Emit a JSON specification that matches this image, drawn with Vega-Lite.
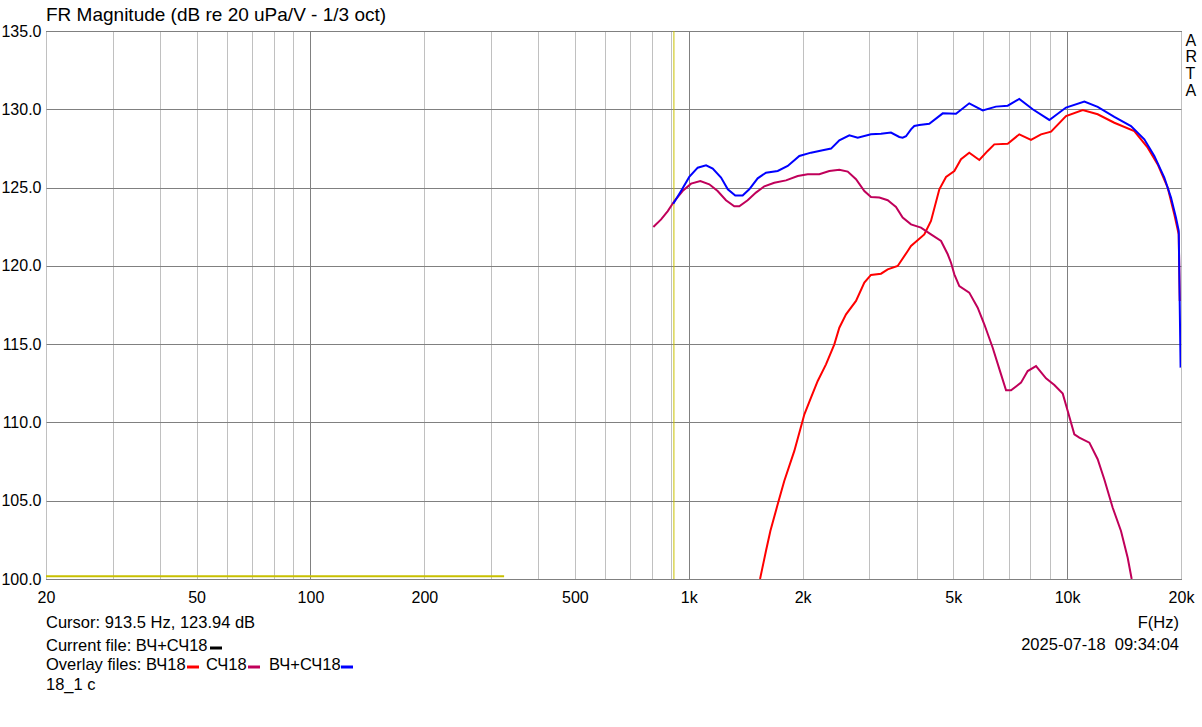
{
  "$schema": "https://vega.github.io/schema/vega-lite/v6.json",
  "background": "white",
  "padding": {"left": 0, "top": 5, "right": 0, "bottom": 0},
  "config": {
    "font": "Liberation Sans",
    "view": {"stroke": "#000", "strokeWidth": 1},
    "axis": {"labelFont": "Liberation Sans", "labelFontSize": 16, "labelColor": "#000", "ticks": false, "domain": false, "labelFlush": false},
    "concat": {"spacing": 0}
  },
  "datasets": {
    "curves": [
      {"s":"ВЧ18","f":1543,"db":100.0},{"s":"ВЧ18","f":1600,"db":101.8},{"s":"ВЧ18","f":1643,"db":103.07},{"s":"ВЧ18","f":1718,"db":104.77},{"s":"ВЧ18","f":1788,"db":106.26},{"s":"ВЧ18","f":1901,"db":108.18},{"s":"ВЧ18","f":2021,"db":110.52},{"s":"ВЧ18","f":2104,"db":111.58},{"s":"ВЧ18","f":2192,"db":112.65},{"s":"ВЧ18","f":2305,"db":113.71},{"s":"ВЧ18","f":2425,"db":114.99},{"s":"ВЧ18","f":2500,"db":116.05},{"s":"ВЧ18","f":2604,"db":116.9},{"s":"ВЧ18","f":2767,"db":117.76},{"s":"ВЧ18","f":2911,"db":118.93},{"s":"ВЧ18","f":3031,"db":119.42},{"s":"ВЧ18","f":3222,"db":119.5},{"s":"ВЧ18","f":3356,"db":119.78},{"s":"ВЧ18","f":3566,"db":119.99},{"s":"ВЧ18","f":3791,"db":120.95},{"s":"ВЧ18","f":3867,"db":121.27},{"s":"ВЧ18","f":4193,"db":122.01},{"s":"ВЧ18","f":4367,"db":122.87},{"s":"ВЧ18","f":4595,"db":124.89},{"s":"ВЧ18","f":4786,"db":125.68},{"s":"ВЧ18","f":5034,"db":126.06},{"s":"ВЧ18","f":5243,"db":126.81},{"s":"ВЧ18","f":5512,"db":127.23},{"s":"ВЧ18","f":5861,"db":126.76},{"s":"ВЧ18","f":6167,"db":127.34},{"s":"ВЧ18","f":6420,"db":127.76},{"s":"ВЧ18","f":6967,"db":127.8},{"s":"ВЧ18","f":7475,"db":128.4},{"s":"ВЧ18","f":8027,"db":128.04},{"s":"ВЧ18","f":8531,"db":128.4},{"s":"ВЧ18","f":9068,"db":128.57},{"s":"ВЧ18","f":9934,"db":129.57},{"s":"ВЧ18","f":10999,"db":129.95},{"s":"ВЧ18","f":12045,"db":129.68},{"s":"ВЧ18","f":13328,"db":129.14},{"s":"ВЧ18","f":15052,"db":128.61},{"s":"ВЧ18","f":16331,"db":127.55},{"s":"ВЧ18","f":17357,"db":126.48},{"s":"ВЧ18","f":18448,"db":124.99},{"s":"ВЧ18","f":19199,"db":123.29},{"s":"ВЧ18","f":19725,"db":122.02},{"s":"ВЧ18","f":19850,"db":117.76},
      {"s":"СЧ18","f":806,"db":122.48},{"s":"СЧ18","f":845,"db":122.97},{"s":"СЧ18","f":880,"db":123.5},{"s":"СЧ18","f":916,"db":124.14},{"s":"СЧ18","f":963,"db":124.78},{"s":"СЧ18","f":1014,"db":125.25},{"s":"СЧ18","f":1073,"db":125.42},{"s":"СЧ18","f":1133,"db":125.21},{"s":"СЧ18","f":1192,"db":124.78},{"s":"СЧ18","f":1254,"db":124.19},{"s":"СЧ18","f":1319,"db":123.8},{"s":"СЧ18","f":1360,"db":123.8},{"s":"СЧ18","f":1431,"db":124.19},{"s":"СЧ18","f":1505,"db":124.68},{"s":"СЧ18","f":1584,"db":125.08},{"s":"СЧ18","f":1683,"db":125.31},{"s":"СЧ18","f":1807,"db":125.46},{"s":"СЧ18","f":1941,"db":125.74},{"s":"СЧ18","f":2062,"db":125.85},{"s":"СЧ18","f":2213,"db":125.85},{"s":"СЧ18","f":2352,"db":126.06},{"s":"СЧ18","f":2500,"db":126.14},{"s":"СЧ18","f":2631,"db":126.02},{"s":"СЧ18","f":2767,"db":125.53},{"s":"СЧ18","f":2911,"db":124.78},{"s":"СЧ18","f":3031,"db":124.4},{"s":"СЧ18","f":3189,"db":124.36},{"s":"СЧ18","f":3356,"db":124.19},{"s":"СЧ18","f":3459,"db":123.93},{"s":"СЧ18","f":3529,"db":123.76},{"s":"СЧ18","f":3676,"db":123.08},{"s":"СЧ18","f":3867,"db":122.65},{"s":"СЧ18","f":4109,"db":122.44},{"s":"СЧ18","f":4367,"db":122.01},{"s":"СЧ18","f":4643,"db":121.59},{"s":"СЧ18","f":4836,"db":120.74},{"s":"СЧ18","f":4934,"db":120.2},{"s":"СЧ18","f":5034,"db":119.46},{"s":"СЧ18","f":5189,"db":118.71},{"s":"СЧ18","f":5512,"db":118.29},{"s":"СЧ18","f":5803,"db":117.33},{"s":"СЧ18","f":6041,"db":116.27},{"s":"СЧ18","f":6358,"db":114.77},{"s":"СЧ18","f":6689,"db":113.07},{"s":"СЧ18","f":6896,"db":112.05},{"s":"СЧ18","f":7109,"db":112.05},{"s":"СЧ18","f":7553,"db":112.54},{"s":"СЧ18","f":7867,"db":113.28},{"s":"СЧ18","f":8276,"db":113.6},{"s":"СЧ18","f":8795,"db":112.82},{"s":"СЧ18","f":9253,"db":112.39},{"s":"СЧ18","f":9737,"db":111.84},{"s":"СЧ18","f":10037,"db":110.73},{"s":"СЧ18","f":10449,"db":109.24},{"s":"СЧ18","f":10771,"db":109.03},{"s":"СЧ18","f":11451,"db":108.71},{"s":"СЧ18","f":12045,"db":107.65},{"s":"СЧ18","f":12538,"db":106.37},{"s":"СЧ18","f":13199,"db":104.55},{"s":"СЧ18","f":13881,"db":103.07},{"s":"СЧ18","f":14458,"db":101.36},{"s":"СЧ18","f":14814,"db":100.0},
      {"s":"ВЧ+СЧ18","f":910,"db":123.97},{"s":"ВЧ+СЧ18","f":954,"db":124.78},{"s":"ВЧ+СЧ18","f":1003,"db":125.68},{"s":"ВЧ+СЧ18","f":1056,"db":126.27},{"s":"ВЧ+СЧ18","f":1111,"db":126.42},{"s":"ВЧ+СЧ18","f":1157,"db":126.21},{"s":"ВЧ+СЧ18","f":1217,"db":125.64},{"s":"ВЧ+СЧ18","f":1268,"db":124.89},{"s":"ВЧ+СЧ18","f":1327,"db":124.49},{"s":"ВЧ+СЧ18","f":1388,"db":124.49},{"s":"ВЧ+СЧ18","f":1445,"db":124.89},{"s":"ВЧ+СЧ18","f":1521,"db":125.59},{"s":"ВЧ+СЧ18","f":1600,"db":125.95},{"s":"ВЧ+СЧ18","f":1718,"db":126.06},{"s":"ВЧ+СЧ18","f":1826,"db":126.38},{"s":"ВЧ+СЧ18","f":1960,"db":127.02},{"s":"ВЧ+СЧ18","f":2104,"db":127.23},{"s":"ВЧ+СЧ18","f":2259,"db":127.38},{"s":"ВЧ+СЧ18","f":2377,"db":127.49},{"s":"ВЧ+СЧ18","f":2500,"db":128.02},{"s":"ВЧ+СЧ18","f":2657,"db":128.34},{"s":"ВЧ+СЧ18","f":2796,"db":128.19},{"s":"ВЧ+СЧ18","f":3031,"db":128.4},{"s":"ВЧ+СЧ18","f":3222,"db":128.44},{"s":"ВЧ+СЧ18","f":3423,"db":128.51},{"s":"ВЧ+СЧ18","f":3601,"db":128.23},{"s":"ВЧ+СЧ18","f":3676,"db":128.19},{"s":"ВЧ+СЧ18","f":3751,"db":128.28},{"s":"ВЧ+СЧ18","f":3867,"db":128.72},{"s":"ВЧ+СЧ18","f":3945,"db":128.93},{"s":"ВЧ+СЧ18","f":4067,"db":128.99},{"s":"ВЧ+СЧ18","f":4322,"db":129.08},{"s":"ВЧ+СЧ18","f":4691,"db":129.74},{"s":"ВЧ+СЧ18","f":5085,"db":129.72},{"s":"ВЧ+СЧ18","f":5512,"db":130.38},{"s":"ВЧ+СЧ18","f":5983,"db":129.93},{"s":"ВЧ+СЧ18","f":6484,"db":130.17},{"s":"ВЧ+СЧ18","f":6967,"db":130.23},{"s":"ВЧ+СЧ18","f":7475,"db":130.66},{"s":"ВЧ+СЧ18","f":8110,"db":130.0},{"s":"ВЧ+СЧ18","f":8975,"db":129.32},{"s":"ВЧ+СЧ18","f":9934,"db":130.11},{"s":"ВЧ+СЧ18","f":11107,"db":130.49},{"s":"ВЧ+СЧ18","f":12045,"db":130.15},{"s":"ВЧ+СЧ18","f":13328,"db":129.51},{"s":"ВЧ+СЧ18","f":14752,"db":128.93},{"s":"ВЧ+СЧ18","f":15998,"db":128.08},{"s":"ВЧ+СЧ18","f":17003,"db":127.02},{"s":"ВЧ+СЧ18","f":18068,"db":125.64},{"s":"ВЧ+СЧ18","f":18818,"db":124.36},{"s":"ВЧ+СЧ18","f":19398,"db":123.08},{"s":"ВЧ+СЧ18","f":19725,"db":122.23},{"s":"ВЧ+СЧ18","f":19950,"db":113.5}
    ],
    "cursor": [{"f": 913.5}],
    "baseline": [{"f": 20, "db": 100.17}, {"f": 325, "db": 100.17}],
    "footLeft": [
      {"t": "Cursor: 913.5 Hz, 123.94 dB", "x": 0, "y": 17},
      {"t": "Current file: ВЧ+СЧ18", "x": 0, "y": 40},
      {"t": "Overlay files: ВЧ18", "x": 0, "y": 58.5},
      {"t": "СЧ18", "x": 160, "y": 58.5},
      {"t": "ВЧ+СЧ18", "x": 223, "y": 58.5},
      {"t": "18_1 c", "x": 0, "y": 79}
    ],
    "footRight": [
      {"t": "F(Hz)", "x": 1133, "y": 17},
      {"t": "2025-07-18\u00a0\u00a009:34:04", "x": 1133, "y": 39}
    ],
    "footDash": [
      {"s": "Current file", "x": 164, "x2": 176, "y": 42},
      {"s": "ВЧ18", "x": 141, "x2": 153, "y": 61},
      {"s": "СЧ18", "x": 202, "x2": 214, "y": 61},
      {"s": "ВЧ+СЧ18", "x": 295, "x2": 307, "y": 61}
    ]
  },
  "vconcat": [
    {
      "width": 1135,
      "height": 548,
      "title": {"text": "FR Magnitude (dB re 20 uPa/V - 1/3 oct)", "anchor": "start", "frame": "group", "fontSize": 19, "fontWeight": "normal", "color": "#000", "font": "Liberation Sans", "offset": -2},
      "layer": [
        {
          "data": {"name": "cursor"},
          "mark": {"type": "rule", "color": "#c8c000", "strokeWidth": 1},
          "encoding": {
            "x": {
              "field": "f", "type": "quantitative",
              "scale": {"type": "log", "domain": [20, 20000], "nice": false},
              "axis": {
                "title": null,
                "values": [20,30,40,50,60,70,80,90,100,200,300,400,500,600,700,800,900,1000,2000,3000,4000,5000,6000,7000,8000,9000,10000,20000],
                "grid": true,
                "gridColor": {"condition": {"test": "datum.value == 100 || datum.value == 1000 || datum.value == 10000", "value": "#808080"}, "value": "#c0c0c0"},
                "gridWidth": 1,
                "labelOverlap": false,
                "labelPadding": 10,
                "labelExpr": "indexof([20,50,100,200,500,1000,2000,5000,10000,20000], datum.value) >= 0 ? (datum.value >= 1000 ? (datum.value / 1000) + 'k' : '' + datum.value) : ''"
              }
            }
          }
        },
        {
          "data": {"name": "baseline"},
          "mark": {"type": "line", "color": "#c8c000", "strokeWidth": 2},
          "encoding": {
            "x": {"field": "f", "type": "quantitative"},
            "y": {
              "field": "db", "type": "quantitative",
              "scale": {"domain": [100, 135], "nice": false, "zero": false},
              "axis": {
                "orient": "right", "labels": false, "grid": false,
                "title": ["A", "R", "T", "A"],
                "titleAngle": 0, "titleAlign": "left", "titleBaseline": "top",
                "titleX": 4, "titleY": 1,
                "titleFont": "Liberation Sans", "titleFontSize": 16, "titleFontWeight": "normal",
                "titleColor": "#000", "titleLineHeight": 16.7
              }
            }
          }
        },
        {
          "data": {"name": "curves"},
          "mark": {"type": "line", "strokeWidth": 2, "clip": true},
          "encoding": {
            "x": {"field": "f", "type": "quantitative"},
            "y": {
              "field": "db", "type": "quantitative",
              "scale": {"domain": [100, 135], "nice": false, "zero": false},
              "axis": {
                "orient": "left", "title": null,
                "values": [100,105,110,115,120,125,130,135],
                "format": ".1f",
                "grid": true, "gridColor": "#808080", "gridWidth": 1,
                "labelPadding": 5
              }
            },
            "color": {
              "field": "s", "type": "nominal",
              "scale": {"domain": ["ВЧ18", "СЧ18", "ВЧ+СЧ18", "Current file"], "range": ["#ff0000", "#c0005a", "#0000ff", "#000000"]},
              "legend": null
            }
          }
        }
      ],
      "resolve": {"scale": {"y": "independent"}}
    },
    {
      "width": 1135,
      "height": 100,
      "view": {"stroke": null},
      "layer": [
        {
          "data": {"name": "footLeft"},
          "mark": {"type": "text", "align": "left", "baseline": "middle", "fontSize": 16.5, "font": "Liberation Sans", "color": "#000"},
          "encoding": {
            "x": {"field": "x", "type": "quantitative", "scale": {"domain": [0, 1135], "nice": false, "zero": false}, "axis": null},
            "y": {"field": "y", "type": "quantitative", "scale": {"domain": [0, 100], "reverse": true, "nice": false, "zero": false}, "axis": null},
            "text": {"field": "t"}
          }
        },
        {
          "data": {"name": "footRight"},
          "mark": {"type": "text", "align": "right", "baseline": "middle", "fontSize": 16.5, "font": "Liberation Sans", "color": "#000"},
          "encoding": {
            "x": {"field": "x", "type": "quantitative", "axis": null},
            "y": {"field": "y", "type": "quantitative", "axis": null},
            "text": {"field": "t"}
          }
        },
        {
          "data": {"name": "footDash"},
          "mark": {"type": "rule", "strokeWidth": 3},
          "encoding": {
            "x": {"field": "x", "type": "quantitative", "axis": null},
            "x2": {"field": "x2"},
            "y": {"field": "y", "type": "quantitative", "axis": null},
            "color": {"field": "s", "type": "nominal", "legend": null}
          }
        }
      ]
    }
  ]
}
